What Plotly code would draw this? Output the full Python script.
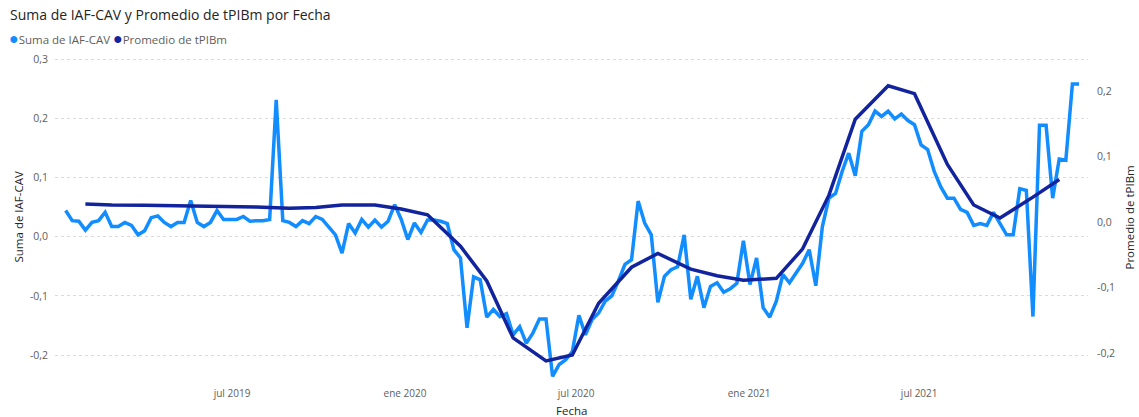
import pandas as pd
import plotly.graph_objects as go

# Weekly "Suma de IAF-CAV" (left axis), first week ending 2019-01-05
iaf_start = "2019-01-05"
iaf_cav = [
    0.044, 0.027, 0.026, 0.011, 0.024, 0.027, 0.041, 0.017, 0.017, 0.024,
    0.019, 0.003, 0.010, 0.032, 0.035, 0.024, 0.017, 0.024, 0.024, 0.061,
    0.024, 0.017, 0.024, 0.044, 0.029, 0.029, 0.029, 0.034, 0.026, 0.027,
    0.027, 0.029, 0.231, 0.027, 0.024, 0.017, 0.027, 0.022, 0.034, 0.029,
    0.015, 0.003, -0.028, 0.022, 0.006, 0.029, 0.016, 0.028, 0.016, 0.026,
    0.054, 0.029, -0.005, 0.023, 0.007, 0.028, 0.028, 0.026, 0.022, -0.022,
    -0.036, -0.154, -0.068, -0.073, -0.136, -0.123, -0.135, -0.130, -0.166, -0.152,
    -0.180, -0.163, -0.139, -0.139, -0.236, -0.216, -0.208, -0.194, -0.133, -0.166,
    -0.140, -0.129, -0.109, -0.100, -0.075, -0.047, -0.039, 0.060, 0.023, 0.003,
    -0.111, -0.067, -0.056, -0.051, 0.003, -0.106, -0.067, -0.120, -0.084, -0.078,
    -0.094, -0.088, -0.079, -0.007, -0.081, -0.036, -0.120, -0.136, -0.109, -0.064,
    -0.078, -0.061, -0.045, -0.022, -0.083, 0.017, 0.065, 0.073, 0.110, 0.141,
    0.103, 0.178, 0.189, 0.212, 0.203, 0.212, 0.199, 0.207, 0.196, 0.189,
    0.155, 0.147, 0.110, 0.084, 0.065, 0.065, 0.046, 0.041, 0.019, 0.022,
    0.019, 0.041, 0.023, 0.003, 0.003, 0.081, 0.078, -0.135, 0.188, 0.188,
    0.065, 0.131, 0.129, 0.258, 0.258,
]

# Monthly "Promedio de tPIBm" (right axis), January 2019 .. November 2021
tpibm_first_month = "2019-01"
tpibm_last_month = "2021-11"
tpibm = [
    0.0275, 0.026, 0.0255, 0.025, 0.0245, 0.024, 0.023, 0.021, 0.022, 0.026,
    0.026, 0.020, 0.011, -0.037, -0.090, -0.177, -0.212, -0.203, -0.124, -0.069,
    -0.048, -0.072, -0.082, -0.089, -0.086, -0.041, 0.041, 0.157, 0.208, 0.196,
    0.088, 0.026, 0.006, 0.038, 0.065,
]

# Axis ticks
x_tick_dates = ["2019-07-01", "2020-01-01", "2020-07-01", "2021-01-01", "2021-07-01"]
x_tick_text = ["jul 2019", "ene 2020", "jul 2020", "ene 2021", "jul 2021"]
y_left_vals = [-0.2, -0.1, 0.0, 0.1, 0.2, 0.3]
y_left_text = ["-0,2", "-0,1", "0,0", "0,1", "0,2", "0,3"]
y_right_vals = [-0.2, -0.1, 0.0, 0.1, 0.2]
y_right_text = ["-0,2", "-0,1", "0,0", "0,1", "0,2"]

LIGHT = "#118DFF"
DARK = "#12239E"
TEXT_DARK = "#252423"
TEXT_GREY = "#605E5C"
FONT = "Open Sans"

week_dates = pd.date_range(iaf_start, periods=len(iaf_cav), freq="7D")

# monthly values sit on the last Saturday of each month
months = pd.period_range(tpibm_first_month, tpibm_last_month, freq="M")
month_dates = []
for m in months:
    end = m.end_time.normalize()
    month_dates.append(end - pd.Timedelta(days=(end.weekday() - 5) % 7))

fig = go.Figure()
fig.add_trace(go.Scatter(
    x=week_dates, y=iaf_cav, name="Suma de IAF-CAV", mode="lines",
    line=dict(color=LIGHT, width=3.5), yaxis="y", showlegend=False,
))
fig.add_trace(go.Scatter(
    x=month_dates, y=tpibm, name="Promedio de tPIBm", mode="lines",
    line=dict(color=DARK, width=3.5), yaxis="y2", showlegend=False,
))

fig.update_layout(
    width=1139, height=417,
    margin=dict(l=55, r=51, t=55, b=37),
    paper_bgcolor="white", plot_bgcolor="white",
    font=dict(family=FONT, color=TEXT_GREY, size=10),
    title=dict(
        text="Suma de IAF-CAV y Promedio de tPIBm por Fecha",
        xref="container", yref="container", x=10 / 1139, xanchor="left",
        y=1 - 15 / 417, yanchor="middle",
        font=dict(family=FONT, size=14, color=TEXT_DARK, weight=500),
    ),
    xaxis=dict(
        type="date",
        range=["2018-12-24 16:00", "2021-12-27 14:00"],
        showgrid=False, zeroline=False, showline=False,
        tickmode="array", tickvals=x_tick_dates, ticktext=x_tick_text,
        tickfont=dict(size=10, color=TEXT_GREY),
        ticklabelstandoff=6,
    ),
    yaxis=dict(
        range=[-0.2422, 0.3068],
        tickmode="array", tickvals=y_left_vals, ticktext=y_left_text,
        showgrid=True, gridcolor="#DADADA", griddash="dot", gridwidth=1,
        zeroline=False, showline=False,
        tickfont=dict(size=10.5, color=TEXT_GREY),
        ticklabelstandoff=6,
    ),
    yaxis2=dict(
        range=[-0.2412, 0.2550], overlaying="y", side="right",
        tickmode="array", tickvals=y_right_vals, ticktext=y_right_text,
        showgrid=False, zeroline=False, showline=False,
        tickfont=dict(size=10.5, color=TEXT_GREY),
        ticklabelstandoff=8,
    ),
)

legend_text = (
    f'<span style="color:{LIGHT};font-size:16px">●</span>Suma de IAF-CAV '
    f'<span style="color:{DARK};font-size:16px">●</span>Promedio de tPIBm'
)
fig.add_annotation(
    text=legend_text, xref="paper", yref="paper", x=0, y=1,
    xanchor="left", yanchor="middle", xshift=7 - 55, yshift=55 - 38,
    showarrow=False, font=dict(family=FONT, size=11.5, color=TEXT_GREY),
)
fig.add_annotation(
    text="Suma de IAF-CAV", xref="paper", yref="paper", x=0, y=0.5,
    xanchor="center", yanchor="middle", xshift=18 - 55, textangle=-90,
    showarrow=False, font=dict(family=FONT, size=11.5, color=TEXT_DARK),
)
fig.add_annotation(
    text="Promedio de tPIBm", xref="paper", yref="paper", x=1, y=0.5,
    xanchor="center", yanchor="middle", xshift=1129 - 1088, textangle=-90,
    showarrow=False, font=dict(family=FONT, size=11.5, color=TEXT_DARK),
)
fig.add_annotation(
    text="Fecha", xref="paper", yref="paper", x=0.5, y=0,
    xanchor="center", yanchor="middle", yshift=380 - 410,
    showarrow=False, font=dict(family=FONT, size=11.5, color=TEXT_DARK),
)

fig.write_html("out.html")
